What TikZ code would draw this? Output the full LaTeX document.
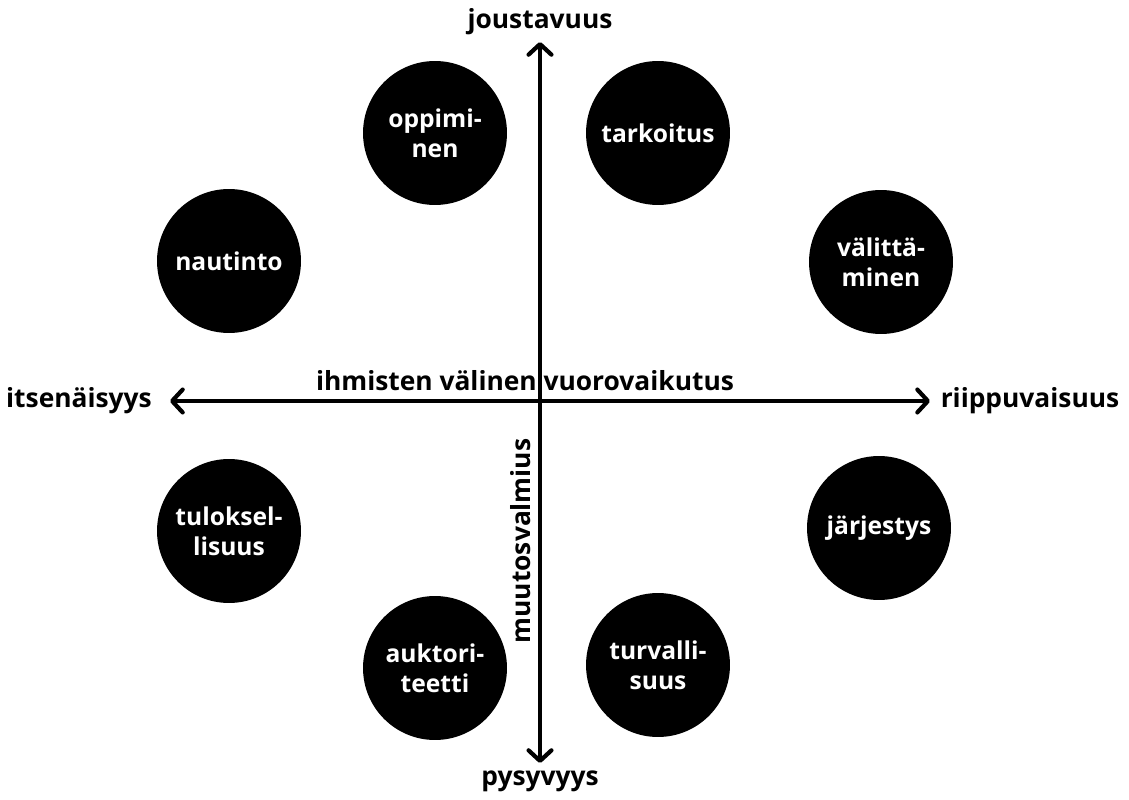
\documentclass[tikz,border=0pt]{standalone}
\usepackage{fontspec}
\setmainfont{Open Sans}
\usetikzlibrary{arrows.meta}
\begin{document}
\begin{tikzpicture}[x=0.02cm,y=-0.02cm,
  val/.style={circle,fill=black,minimum size=2.88cm,inner sep=0pt,align=center,
    text=white,font=\fontsize{14}{17}\selectfont\bfseries},
  axis/.style={line width=2.4pt,{Straight Barb[length=6pt,width=13pt,line cap=round,line join=round]}-{Straight Barb[length=6pt,width=13pt,line cap=round,line join=round]}},
  lab/.style={font=\fontsize{15}{18}\selectfont\bfseries,inner sep=0pt}]
\useasboundingbox (0,0) rectangle (1129,800);
\coordinate (top) at (540,42);
\coordinate (bot) at (540,763);
\coordinate (left) at (170,401);
\coordinate (right) at (930,401);
\draw[axis] (bot) -- (top);
\draw[axis] (left) -- (right);
\node[lab] (jo) at (540,22) {joustavuus};
\node[lab] (py) at (540,781) {pysyvyys};
\node[lab] (it) at (79,401) {itsenäisyys};
\node[lab] (ri) at (1030,401) {riippuvaisuus};
\node[lab] (vu) at (525,381) {ihmisten välinen vuorovaikutus};
\node[lab,rotate=90] (mu) at (521,541) {muutosvalmius};
\node[val] (op) at (435,133) {oppimi-\\nen};
\node[val] (ta) at (658,133) {tarkoitus};
\node[val] (na) at (229,261) {nautinto};
\node[val] (va) at (881,262) {välittä-\\minen};
\node[val] (tu) at (229,531) {tuloksel-\\lisuus};
\node[val] (ja) at (879,528) {järjestys};
\node[val] (au) at (435,668) {auktori-\\teetti};
\node[val] (tv) at (658,665) {turvalli-\\suus};
\end{tikzpicture}
\end{document}
